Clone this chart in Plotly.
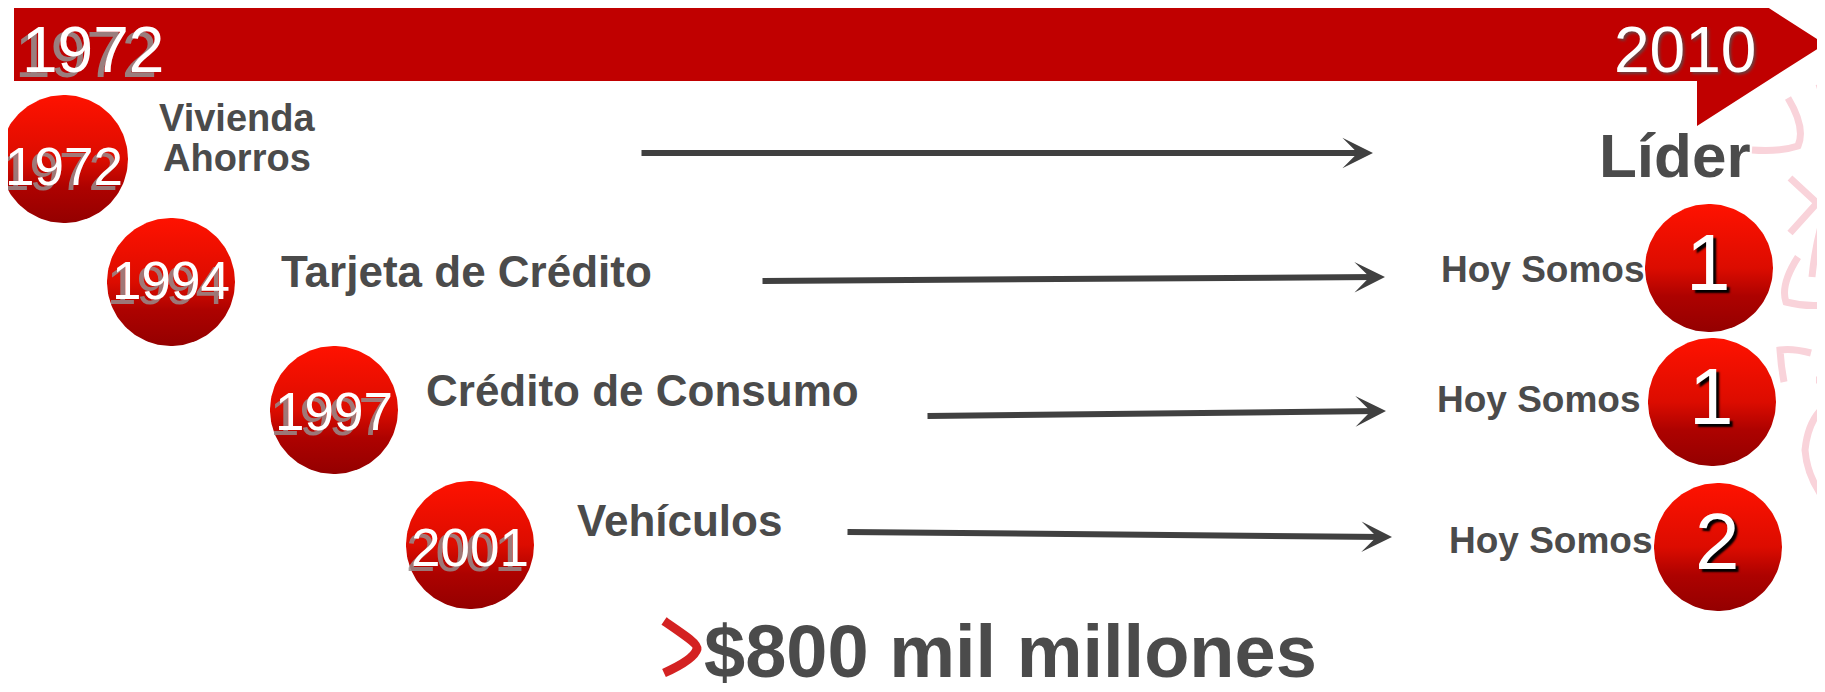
import numpy as np
import plotly.graph_objects as go

# ---- datos ----
anio_inicio = 1972
anio_fin = 2010
anios = [1972, 1994, 1997, 2001]
productos = ["Vivienda\nAhorros", "Tarjeta de Crédito", "Crédito de Consumo", "Vehículos"]
estado = ["Líder", "Hoy Somos", "Hoy Somos", "Hoy Somos"]
puesto = [None, 1, 1, 2]
total = "$800 mil millones"

# ---- posiciones en pixeles del lienzo ----
W, H = 1825, 692
M = 8  # margen del body de la pagina
R = 64
circ_x = [64, 171, 334, 470]
circ_y = [159, 282, 410, 545]
anio_y = [166, 280, 411, 547]
prod_x = [237, 279, 424, 575]
prod_y = [118, 271, 390, 520]
flecha_x0 = [640, 761, 926, 846]
flecha_y0 = [153, 281, 416, 532]
flecha_x1 = [1373, 1385, 1386, 1392]
flecha_y1 = [153, 277, 411, 537]
est_x = [1597, 1439, 1435, 1447]
est_y = [155, 269, 399, 540]
rank_cx = [None, 1709, 1712, 1718]
rank_cy = [None, 268, 402, 547]

FONT = "Liberation Sans, Arial, sans-serif"
GRIS = "#4b4b4b"
ROJO = "#c00000"
ESCALA = [[0, "#ff1200"], [0.5, "#dc0c00"], [0.72, "#ad0200"], [1, "#940000"]]

fig = go.Figure()


def circulo(cx, cy, r=R):
    t = np.linspace(0, 2 * np.pi, 160)
    fig.add_trace(go.Scatter(
        x=cx + r * np.cos(t), y=cy + r * np.sin(t), mode="lines", fill="toself",
        line=dict(width=0, color="#d00000"), fillcolor="#d00000",
        fillgradient=dict(type="vertical", colorscale=ESCALA, start=cy - r, stop=cy + r),
        hoverinfo="skip", showlegend=False, cliponaxis=False))


def texto(x, y, s, size, color=GRIS, bold=True, xanchor="left", shadow=None):
    f = dict(family=FONT, size=size, color=color, weight="bold" if bold else "normal")
    if shadow:
        f["shadow"] = shadow
    fig.add_annotation(x=x, y=y, text=s, showarrow=False, xanchor=xanchor,
                       yanchor="middle", font=f)


# barra de tiempo (flecha roja)
fig.add_shape(type="path", line=dict(width=0), fillcolor=ROJO, layer="below",
              path="M 14 8 L 1697 8 L 1697 -38 L 1825 44 L 1697 126 L 1697 81 L 14 81 Z")

# adornos rosados a la derecha
rosa = [
    "M 1788 98 Q 1806 128 1798 146 Q 1780 152 1752 150",
    "M 1819 84 Q 1826 105 1825 130",
    "M 1790 178 L 1817 203 L 1790 233",
    "M 1798 257 Q 1780 285 1786 302 Q 1805 307 1825 305",
    "M 1825 212 Q 1815 245 1812 277",
    "M 1811 353 Q 1792 348 1780 350 Q 1781 366 1784 382",
    "M 1816 380 L 1825 380",
    "M 1825 406 Q 1808 420 1805 450 Q 1807 475 1822 496",
]
for p in rosa:
    fig.add_shape(type="path", path=p, layer="below",
                  line=dict(color="#f9d3da", width=7))

# circulos con anio
for i in range(len(anios)):
    circulo(circ_x[i], circ_y[i])
for i in range(len(anios)):
    texto(circ_x[i] - 5, anio_y[i] + 5, str(anios[i]), 53, color="rgba(150,140,140,0.85)",
          bold=False, xanchor="center")
    texto(circ_x[i], anio_y[i], str(anios[i]), 53, color="white", bold=False, xanchor="center")

# circulos con puesto
for i in range(len(anios)):
    if puesto[i] is not None:
        circulo(rank_cx[i], rank_cy[i])

# anios de la barra
texto(93 - 7, 50 + 5, str(anio_inicio), 64, color="rgba(150,140,140,0.9)", bold=False,
      xanchor="center")
texto(93, 50, str(anio_inicio), 64, color="white", bold=False, xanchor="center")
texto(1685, 50, str(anio_fin), 64, color="white", bold=False, xanchor="center",
      shadow="2px 2px 3px #6b4040")

# productos
for i, p in enumerate(productos):
    lineas = p.split("\n")
    if len(lineas) > 1:
        for j, l in enumerate(lineas):
            texto(prod_x[i], prod_y[i] + 40 * j, l, 38, xanchor="center")
    else:
        texto(prod_x[i], prod_y[i], p, 44)

# flechas
for i in range(len(anios)):
    fig.add_annotation(x=flecha_x1[i], y=flecha_y1[i], ax=flecha_x0[i], ay=flecha_y0[i],
                       xref="x", yref="y", axref="x", ayref="y", text="",
                       showarrow=True, arrowhead=3, arrowsize=0.85, arrowwidth=6,
                       arrowcolor="#404040")

# estado actual
for i in range(len(anios)):
    if puesto[i] is None:
        texto(est_x[i], est_y[i], estado[i], 62)
    else:
        texto(est_x[i], est_y[i], estado[i], 37)
        texto(rank_cx[i] - 1, rank_cy[i] - 6, str(puesto[i]), 80, color="white",
              bold=False, xanchor="center", shadow="3px 3px 2px #000")

# total
fig.add_shape(type="path", layer="above",
              path="M 664 621 C 686 636 698 644 697 649 C 695 656 684 664 664 673",
              line=dict(color="#d42222", width=9))
texto(702, 651, total, 74)

# el body de la pagina deja 8px de margen: se compensa en los rangos
fig.update_layout(
    width=W - M, height=H - M, margin=dict(l=0, r=0, t=0, b=0),
    xaxis=dict(range=[M, W], visible=False),
    yaxis=dict(range=[H, M], visible=False),
    plot_bgcolor="white", paper_bgcolor="white", showlegend=False,
)

fig.write_html("out.html")
